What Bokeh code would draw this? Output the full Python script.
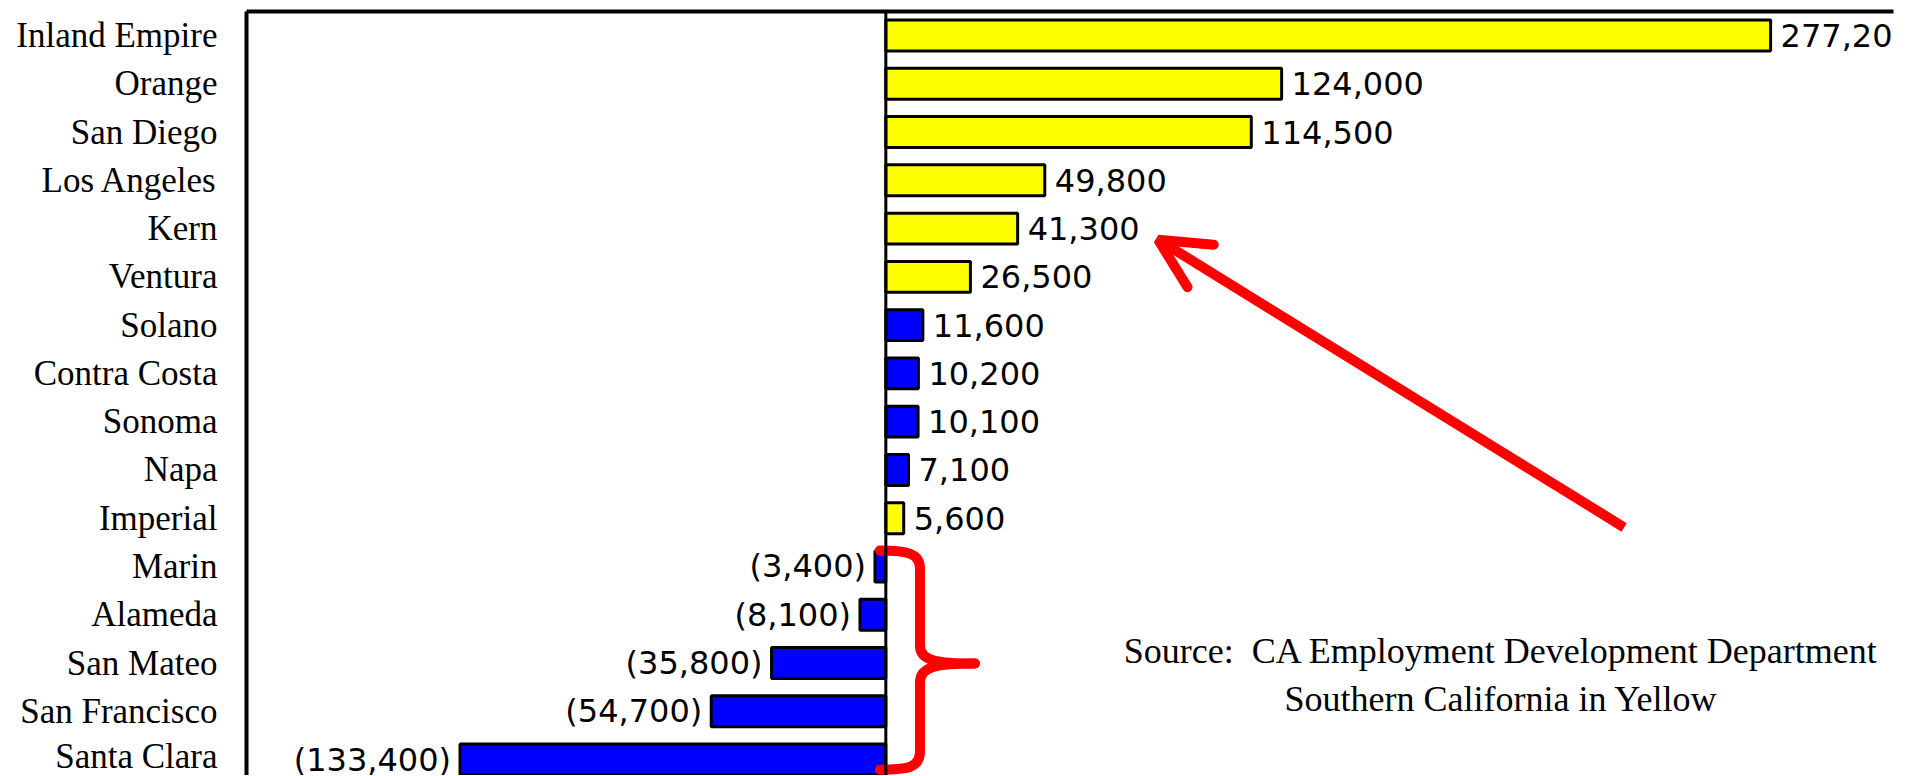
from bokeh.plotting import figure
from bokeh.models import Span, Arrow, OpenHead, FixedTicker, ColumnDataSource, Label, Range1d
from bokeh.core.properties import value
from bokeh.embed import file_html
from bokeh.resources import INLINE

# ---- data ----
counties = ["Inland Empire", "Orange", "San Diego", "Los Angeles", "Kern", "Ventura",
            "Solano", "Contra Costa", "Sonoma", "Napa", "Imperial", "Marin",
            "Alameda", "San Mateo", "San Francisco", "Santa Clara"]
job_change = [277200, 124000, 114500, 49800, 41300, 26500, 11600, 10200, 10100,
              7100, 5600, -3400, -8100, -35800, -54700, -133400]
southern = [True, True, True, True, True, True, False, False, False, False,
            True, False, False, False, False, False]
note_lines = ["Source:\u00a0 CA Employment Development Department",
              "Southern California in Yellow"]

# ---- derived table ----
pos = [-i for i in range(len(counties))]
colors = ["#FFFF00" if s else "#0000FF" for s in southern]
labels = [f"{v:,}" if v >= 0 else f"({-v:,})" for v in job_change]

src = ColumnDataSource(dict(pos=pos, val=job_change, color=colors, label=labels))
pos_src = ColumnDataSource(dict(
    pos=[p_ for p_, v in zip(pos, job_change) if v >= 0],
    val=[v for v in job_change if v >= 0],
    label=[l for l, v in zip(labels, job_change) if v >= 0]))
neg_src = ColumnDataSource(dict(
    pos=[p_ for p_, v in zip(pos, job_change) if v < 0],
    val=[v for v in job_change if v < 0],
    label=[l for l, v in zip(labels, job_change) if v < 0]))

p = figure(width=1901, height=775, output_backend="svg", toolbar_location=None,
           x_range=Range1d(-200300, 315700), y_range=Range1d(-15.33, 0.497),
           x_axis_location="above",
           min_border_left=246, min_border_right=8, min_border_top=11, min_border_bottom=0)
p.background_fill_color = "white"
p.border_fill_color = "white"
p.outline_line_color = None
p.xgrid.visible = False
p.ygrid.visible = False

# top axis: only its line, as the top border
p.xaxis.ticker = FixedTicker(ticks=[])
p.xaxis.major_label_text_font_size = "0px"
p.xaxis.major_tick_out = 0
p.xaxis.major_tick_in = 0
p.xaxis.minor_tick_out = 0
p.xaxis.minor_tick_in = 0
p.xaxis.major_label_standoff = 0
p.xaxis.axis_line_width = 4
p.xaxis.axis_line_color = "black"

# left axis: category names
p.yaxis.ticker = FixedTicker(ticks=pos)
p.yaxis.major_label_overrides = {pp: name for pp, name in zip(pos, counties)}
p.yaxis.major_label_text_font = "Liberation Serif"
p.yaxis.major_label_text_font_size = "35px"
p.yaxis.major_label_text_color = "black"
p.yaxis.major_tick_line_color = None
p.yaxis.minor_tick_line_color = None
p.yaxis.major_tick_out = 0
p.yaxis.major_tick_in = 0
p.yaxis.minor_tick_out = 0
p.yaxis.minor_tick_in = 0
p.yaxis.major_label_standoff = 29
p.yaxis.axis_line_width = 4
p.yaxis.axis_line_color = "black"

p.hbar(y="pos", left=0, right="val", height=0.64, fill_color="color",
       line_color="black", line_width=3, source=src)

p.add_layout(Span(location=0, dimension="height", line_color="black", line_width=3))

p.text(x="val", y="pos", text="label", source=pos_src, x_offset=10,
       text_align="left", text_baseline="middle", text_color="black",
       text_font=value("DejaVu Sans"), text_font_size="32px")
p.text(x="val", y="pos", text="label", source=neg_src, x_offset=-9,
       text_align="right", text_baseline="middle", text_color="black",
       text_font=value("DejaVu Sans"), text_font_size="32px")

# source note
for line, yy in zip(note_lines, [-12.76, -13.74]):
    p.add_layout(Label(x=192800, y=yy, text=line, text_align="center",
                       text_baseline="middle", text_font="Liberation Serif",
                       text_font_size="36px", text_color="black"))

# red arrow pointing at Kern
p.add_layout(Arrow(end=OpenHead(size=50, line_color="#FF0000", line_width=10,
                                line_cap="round"),
                   x_start=231300, y_start=-10.19, x_end=85300, y_end=-4.23,
                   line_color="#FF0000", line_width=10))

# red brace around Bay Area losses
red = dict(line_color="#FF0000", line_width=10, line_cap="round")
p.bezier(x0=[-1900, 10700, 27900, 10700], y0=[-10.67, -12.64, -13.01, -14.83],
         x1=[10700, 27900, 10700, -1900], y1=[-11.04, -13.01, -13.40, -15.21],
         cx0=[7500, 10700, 16000, 10700], cy0=[-10.67, -12.95, -13.01, -15.15],
         cx1=[10700, 16000, 10700, 7500], cy1=[-10.75, -13.01, -13.07, -15.21], **red)
p.segment(x0=[10700, 10700], y0=[-11.04, -13.40], x1=[10700, 10700], y1=[-12.64, -14.83], **red)

open("out.html", "w").write(file_html(p, INLINE))
